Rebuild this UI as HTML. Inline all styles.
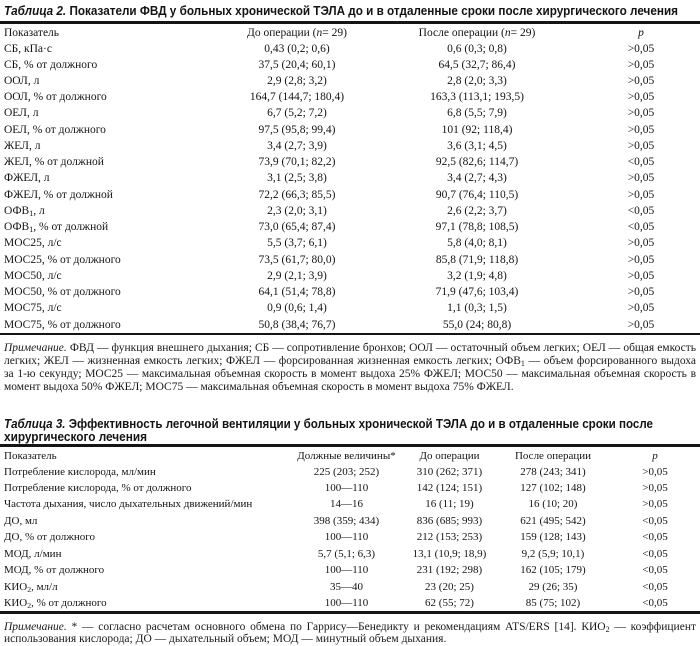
<!DOCTYPE html>
<html>
<head>
<meta charset="utf-8">
<style>
  html,body{margin:0;padding:0;}
  body{width:700px;height:641px;position:relative;background:#fff;overflow:hidden;color:#141414;}
  .r{position:absolute;left:0;width:700px;height:16px;line-height:16px;font-family:"Liberation Serif","DejaVu Serif",serif;white-space:nowrap;}
  .t2{font-size:11.5px;}
  .t3{font-size:11px;}
  .r span{position:absolute;top:0;}
  .c1{left:4px;}
  .c2{left:197px;width:200px;text-align:center;}
  .c3{left:377px;width:200px;text-align:center;}
  .c4{left:591px;width:100px;text-align:center;}
  .d1{left:4px;}
  .d2{left:286.5px;width:120px;text-align:center;}
  .d3{left:389.5px;width:120px;text-align:center;}
  .d4{left:493px;width:120px;text-align:center;}
  .d5{left:615px;width:80px;text-align:center;}
  .r span.sb{position:relative;font-size:70%;vertical-align:-2px;line-height:0;}
  .rule{position:absolute;left:0;width:700px;background:#151515;}
  .note{position:absolute;left:4px;width:692px;font-family:"Liberation Serif","DejaVu Serif",serif;font-size:11.5px;color:#1a1a1a;}
  .note div{white-space:nowrap;}
  .note div.j{text-align:justify;text-align-last:justify;white-space:normal;overflow:hidden;}
  .n2 div{height:13.2px;line-height:13.2px;}
  .n3 div{height:12.5px;line-height:12.5px;}
  .note i{font-style:italic;}
  .note .sb{font-size:70%;vertical-align:-2px;line-height:0;}
</style>
</head>
<body>

<svg style="position:absolute;left:0;top:0" width="700" height="641">
  <text x="4" y="15" textLength="674" lengthAdjust="spacingAndGlyphs" font-family="Liberation Sans, sans-serif" font-weight="bold" font-size="12.5" fill="#141414"><tspan font-style="italic">Таблица 2.</tspan> Показатели ФВД у больных хронической ТЭЛА до и в отдаленные сроки после хирургического лечения</text>
  <text x="4" y="428" textLength="649" lengthAdjust="spacingAndGlyphs" font-family="Liberation Sans, sans-serif" font-weight="bold" font-size="12.5" fill="#141414"><tspan font-style="italic">Таблица 3.</tspan> Эффективность легочной вентиляции у больных хронической ТЭЛА до и в отдаленные сроки после</text>
  <text x="4" y="441" textLength="143" lengthAdjust="spacingAndGlyphs" font-family="Liberation Sans, sans-serif" font-weight="bold" font-size="12.5" fill="#141414">хирургического лечения</text>
</svg>

<!-- Table 2 -->
<div class="rule" style="top:21px;height:2.5px"></div>
<div class="r t2" style="top:24.5px"><span class="c1">Показатель</span><span class="c2">До операции (<i>n</i>= 29)</span><span class="c3">После операции (<i>n</i>= 29)</span><span class="c4"><i>p</i></span></div>

<div class="r t2" style="top:40.5px"><span class="c1">СБ, кПа·с</span><span class="c2">0,43 (0,2; 0,6)</span><span class="c3">0,6 (0,3; 0,8)</span><span class="c4">&gt;0,05</span></div>
<div class="r t2" style="top:56.74px"><span class="c1">СБ, % от должного</span><span class="c2">37,5 (20,4; 60,1)</span><span class="c3">64,5 (32,7; 86,4)</span><span class="c4">&gt;0,05</span></div>
<div class="r t2" style="top:72.98px"><span class="c1">ООЛ, л</span><span class="c2">2,9 (2,8; 3,2)</span><span class="c3">2,8 (2,0; 3,3)</span><span class="c4">&gt;0,05</span></div>
<div class="r t2" style="top:89.22px"><span class="c1">ООЛ, % от должного</span><span class="c2">164,7 (144,7; 180,4)</span><span class="c3">163,3 (113,1; 193,5)</span><span class="c4">&gt;0,05</span></div>
<div class="r t2" style="top:105.46px"><span class="c1">ОЕЛ, л</span><span class="c2">6,7 (5,2; 7,2)</span><span class="c3">6,8 (5,5; 7,9)</span><span class="c4">&gt;0,05</span></div>
<div class="r t2" style="top:121.7px"><span class="c1">ОЕЛ, % от должного</span><span class="c2">97,5 (95,8; 99,4)</span><span class="c3">101 (92; 118,4)</span><span class="c4">&gt;0,05</span></div>
<div class="r t2" style="top:137.94px"><span class="c1">ЖЕЛ, л</span><span class="c2">3,4 (2,7; 3,9)</span><span class="c3">3,6 (3,1; 4,5)</span><span class="c4">&gt;0,05</span></div>
<div class="r t2" style="top:154.18px"><span class="c1">ЖЕЛ, % от должной</span><span class="c2">73,9 (70,1; 82,2)</span><span class="c3">92,5 (82,6; 114,7)</span><span class="c4">&lt;0,05</span></div>
<div class="r t2" style="top:170.42px"><span class="c1">ФЖЕЛ, л</span><span class="c2">3,1 (2,5; 3,8)</span><span class="c3">3,4 (2,7; 4,3)</span><span class="c4">&gt;0,05</span></div>
<div class="r t2" style="top:186.66px"><span class="c1">ФЖЕЛ, % от должной</span><span class="c2">72,2 (66,3; 85,5)</span><span class="c3">90,7 (76,4; 110,5)</span><span class="c4">&gt;0,05</span></div>
<div class="r t2" style="top:202.9px"><span class="c1">ОФВ<span class="sb">1</span>, л</span><span class="c2">2,3 (2,0; 3,1)</span><span class="c3">2,6 (2,2; 3,7)</span><span class="c4">&lt;0,05</span></div>
<div class="r t2" style="top:219.14px"><span class="c1">ОФВ<span class="sb">1</span>, % от должной</span><span class="c2">73,0 (65,4; 87,4)</span><span class="c3">97,1 (78,8; 108,5)</span><span class="c4">&lt;0,05</span></div>
<div class="r t2" style="top:235.38px"><span class="c1">МОС25, л/с</span><span class="c2">5,5 (3,7; 6,1)</span><span class="c3">5,8 (4,0; 8,1)</span><span class="c4">&gt;0,05</span></div>
<div class="r t2" style="top:251.62px"><span class="c1">МОС25, % от должного</span><span class="c2">73,5 (61,7; 80,0)</span><span class="c3">85,8 (71,9; 118,8)</span><span class="c4">&gt;0,05</span></div>
<div class="r t2" style="top:267.86px"><span class="c1">МОС50, л/с</span><span class="c2">2,9 (2,1; 3,9)</span><span class="c3">3,2 (1,9; 4,8)</span><span class="c4">&gt;0,05</span></div>
<div class="r t2" style="top:284.1px"><span class="c1">МОС50, % от должного</span><span class="c2">64,1 (51,4; 78,8)</span><span class="c3">71,9 (47,6; 103,4)</span><span class="c4">&gt;0,05</span></div>
<div class="r t2" style="top:300.34px"><span class="c1">МОС75, л/с</span><span class="c2">0,9 (0,6; 1,4)</span><span class="c3">1,1 (0,3; 1,5)</span><span class="c4">&gt;0,05</span></div>
<div class="r t2" style="top:316.58px"><span class="c1">МОС75, % от должного</span><span class="c2">50,8 (38,4; 76,7)</span><span class="c3">55,0 (24; 80,8)</span><span class="c4">&gt;0,05</span></div>
<div class="rule" style="top:332.5px;height:2.5px"></div>

<div class="note n2" style="top:341.5px">
  <div class="j"><i>Примечание.</i> ФВД — функция внешнего дыхания; СБ — сопротивление бронхов; ООЛ — остаточный объем легких; ОЕЛ — общая емкость</div>
  <div class="j">легких; ЖЕЛ — жизненная емкость легких; ФЖЕЛ — форсированная жизненная емкость легких; ОФВ<span class="sb">1</span> — объем форсированного выдоха</div>
  <div class="j">за 1-ю секунду; МОС25 — максимальная объемная скорость в момент выдоха 25% ФЖЕЛ; МОС50 — максимальная объемная скорость в</div>
  <div>момент выдоха 50% ФЖЕЛ; МОС75 — максимальная объемная скорость в момент выдоха 75% ФЖЕЛ.</div>
</div>

<!-- Table 3 -->
<div class="rule" style="top:444px;height:2.5px"></div>
<div class="r t3" style="top:448px"><span class="d1">Показатель</span><span class="d2">Должные величины*</span><span class="d3">До операции</span><span class="d4">После операции</span><span class="d5"><i>p</i></span></div>

<div class="r t3" style="top:463.5px"><span class="d1">Потребление кислорода, мл/мин</span><span class="d2">225 (203; 252)</span><span class="d3">310 (262; 371)</span><span class="d4">278 (243; 341)</span><span class="d5">&gt;0,05</span></div>
<div class="r t3" style="top:479.95px"><span class="d1">Потребление кислорода, % от должного</span><span class="d2">100—110</span><span class="d3">142 (124; 151)</span><span class="d4">127 (102; 148)</span><span class="d5">&gt;0,05</span></div>
<div class="r t3" style="top:496.4px"><span class="d1">Частота дыхания, число дыхательных движений/мин</span><span class="d2">14—16</span><span class="d3">16 (11; 19)</span><span class="d4">16 (10; 20)</span><span class="d5">&gt;0,05</span></div>
<div class="r t3" style="top:512.85px"><span class="d1">ДО, мл</span><span class="d2">398 (359; 434)</span><span class="d3">836 (685; 993)</span><span class="d4">621 (495; 542)</span><span class="d5">&lt;0,05</span></div>
<div class="r t3" style="top:529.3px"><span class="d1">ДО, % от должного</span><span class="d2">100—110</span><span class="d3">212 (153; 253)</span><span class="d4">159 (128; 143)</span><span class="d5">&lt;0,05</span></div>
<div class="r t3" style="top:545.75px"><span class="d1">МОД, л/мин</span><span class="d2">5,7 (5,1; 6,3)</span><span class="d3">13,1 (10,9; 18,9)</span><span class="d4">9,2 (5,9; 10,1)</span><span class="d5">&lt;0,05</span></div>
<div class="r t3" style="top:562.2px"><span class="d1">МОД, % от должного</span><span class="d2">100—110</span><span class="d3">231 (192; 298)</span><span class="d4">162 (105; 179)</span><span class="d5">&lt;0,05</span></div>
<div class="r t3" style="top:578.65px"><span class="d1">КИО<span class="sb">2</span>, мл/л</span><span class="d2">35—40</span><span class="d3">23 (20; 25)</span><span class="d4">29 (26; 35)</span><span class="d5">&lt;0,05</span></div>
<div class="r t3" style="top:595.1px"><span class="d1">КИО<span class="sb">2</span>, % от должного</span><span class="d2">100—110</span><span class="d3">62 (55; 72)</span><span class="d4">85 (75; 102)</span><span class="d5">&lt;0,05</span></div>
<div class="rule" style="top:611px;height:2.5px"></div>

<div class="note n3" style="top:620.5px">
  <div class="j"><i>Примечание.</i> * — согласно расчетам основного обмена по Гаррису—Бенедикту и рекомендациям ATS/ERS [14]. КИО<span class="sb">2</span> — коэффициент</div>
  <div>использования кислорода; ДО — дыхательный объем; МОД — минутный объем дыхания.</div>
</div>

</body>
</html>
